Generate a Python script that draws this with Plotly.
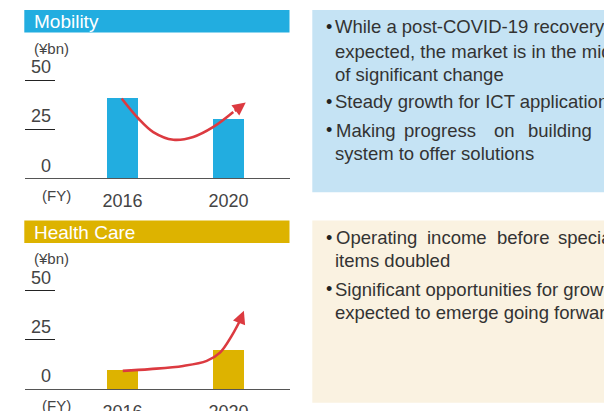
import plotly.graph_objects as go

W, H = 604, 411          # reference picture size
VIEW_H = 422             # layout height (browser viewport is rescaled to H)
K = VIEW_H / H

# ---------------- data ----------------
years = [2016, 2020]
mobility_values = [41.0, 30.2]
healthcare_values = [9.7, 19.9]
y_ticks = [0, 25, 50]
y_tick_labels = ["0", "25", "50"]
unit_label = "(¥bn)"
fy_label = "(FY)"
segments = ["Mobility", "Health Care"]

# trend arrows (data coordinates)
mob_trend_x = [2015.97, 2016.60, 2017.16, 2017.92, 2018.67, 2019.43, 2020.18]
mob_trend_y = [40.7, 30.5, 23.6, 19.7, 21.1, 26.2, 33.8]
mob_tip = (2020.65, 38.6)
hc_trend_x = [2016.01, 2017.04, 2018.29, 2019.18, 2019.68, 2020.12, 2020.43]
hc_trend_y = [9.2, 10.1, 11.7, 14.3, 18.5, 27.0, 34.7]
hc_tip = (2020.58, 39.8)

mobility_text = [
    ["While a post-COVID-19 recovery is"],
    ["expected, the market is in the midst"],
    ["of significant change"],
    ["Steady growth for ICT applications"],
    ["Making", "progress", "on", "building"],
    ["system to offer solutions"],
]
mobility_bullets = [0, 3, 4]
health_text = [
    ["Operating", "income", "before", "special"],
    ["items doubled"],
    ["Significant opportunities for growth"],
    ["expected to emerge going forward"],
]
health_bullets = [0, 2]

# ---------------- style ----------------
BLUE = "#22ade0"
YELLOW = "#ddb300"
RED = "#dc3a40"
TXT = "#333333"
GRAY = "#444444"
FONT = "Liberation Sans, Arial, sans-serif"


def px(x):
    return x / W


def py(y):
    return 1 - y / H


PXU = 1.96  # reference pixels per unit
X_RANGE = [2012.321, 2022.321]

fig = go.Figure()

panels = [
    dict(name=segments[0], vals=mobility_values, color=BLUE, base=178, top=10,
         tx=mob_trend_x, ty=mob_trend_y, tip=mob_tip, box="#c5e3f4",
         lines=mobility_text, bullets=mobility_bullets, xa="x", ya="y",
         line_y=[16.7, 41, 64.5, 91.7, 120, 143.3],
         just_x=[335, 402.7, 493, 527]),
    dict(name=segments[1], vals=healthcare_values, color=YELLOW, base=388, top=220,
         tx=hc_trend_x, ty=hc_trend_y, tip=hc_tip, box="#faf2e1",
         lines=health_text, bullets=health_bullets, xa="x2", ya="y2",
         line_y=[17, 40, 68.3, 91.7],
         just_x=[335, 426, 496, 557]),
]

annotations = []
shapes = []

for i, p in enumerate(panels):
    xa, ya = p["xa"], p["ya"]
    base, top = p["base"], p["top"]
    ydom = [py(base), py(base - 55 * PXU)]
    axkey = "" if i == 0 else "2"
    fig.update_layout(**{
        f"xaxis{axkey}": dict(
            domain=[px(25), px(290)], range=X_RANGE, tickvals=years,
            ticktext=[str(y) for y in years], showgrid=False, zeroline=False,
            showline=True, linecolor="#555555", linewidth=1.3, ticks="",
            ticklabelstandoff=6, tickfont=dict(family=FONT, size=18, color=GRAY),
            anchor=ya, fixedrange=True,
        ),
        f"yaxis{axkey}": dict(
            domain=ydom, range=[0, 55], tickvals=y_ticks, showticklabels=False,
            ticks="inside", ticklen=30, tickwidth=1.1, tickcolor="#222222",
            showgrid=False, zeroline=False, showline=False, anchor=xa,
            fixedrange=True,
        ),
    })
    fig.add_trace(go.Bar(
        x=years, y=p["vals"], width=1.17, marker=dict(color=p["color"], line=dict(width=0)),
        xaxis=xa, yaxis=ya, showlegend=False, hoverinfo="skip",
    ))
    fig.add_trace(go.Scatter(
        x=p["tx"], y=p["ty"], mode="lines", line=dict(color=RED, width=2.6, shape="spline"),
        xaxis=xa, yaxis=ya, showlegend=False, hoverinfo="skip",
    ))
    annotations.append(dict(
        x=p["tip"][0], y=p["tip"][1], ax=p["tx"][-1], ay=p["ty"][-1],
        xref=xa, yref=ya, axref=xa, ayref=ya, text="", showarrow=True,
        arrowhead=2, arrowsize=1.0, arrowwidth=2.6, arrowcolor=RED,
    ))
    # header bar
    shapes.append(dict(type="rect", xref="paper", yref="paper",
                       x0=px(24.3), x1=px(289.5), y0=py(top + 22.3), y1=py(top),
                       fillcolor=p["color"], line=dict(width=0), layer="below"))
    annotations.append(dict(x=px(32), y=py(top + 11.5), xref="paper", yref="paper",
                            text=p["name"], showarrow=False, xanchor="left", yanchor="middle",
                            font=dict(family=FONT, size=19, color="white")))
    # unit label
    annotations.append(dict(x=px(32), y=py(top + 38), xref="paper", yref="paper",
                            text=unit_label, showarrow=False, xanchor="left", yanchor="middle",
                            font=dict(family=FONT, size=15, color=GRAY)))
    # FY label
    annotations.append(dict(x=px(40), y=py(base + 17), xref="paper", yref="paper",
                            text=fy_label, showarrow=False, xanchor="left", yanchor="middle",
                            font=dict(family=FONT, size=15, color=GRAY)))
    # y tick labels
    for v, lab in zip(y_ticks, y_tick_labels):
        annotations.append(dict(x=px(53), y=v, xref="paper", yref=ya, yshift=12.5 * K,
                                text=lab, showarrow=False, xanchor="right", yanchor="middle",
                                font=dict(family=FONT, size=18, color=GRAY)))
    # text box
    shapes.append(dict(type="rect", xref="paper", yref="paper",
                       x0=px(312.3), x1=1.05, y0=py(top + 181.7), y1=py(top),
                       fillcolor=p["box"], line=dict(width=0), layer="below"))
    for j, words in enumerate(p["lines"]):
        yy = py(top + p["line_y"][j])
        if j in p["bullets"]:
            annotations.append(dict(x=px(328.5), y=yy, xref="paper", yref="paper", text="•",
                                    showarrow=False, xanchor="center", yanchor="middle",
                                    font=dict(family=FONT, size=18, color="#222222")))
        xs = [334] if len(words) == 1 else p["just_x"]
        for w, x0 in zip(words, xs):
            annotations.append(dict(x=px(x0), y=yy, xref="paper", yref="paper", text=w,
                                    showarrow=False, xanchor="left", yanchor="middle",
                                    xshift=-1,
                                    font=dict(family=FONT, size=18.5, color=TXT)))

fig.update_layout(
    width=W, height=VIEW_H, autosize=False, margin=dict(l=0, r=0, t=0, b=0),
    paper_bgcolor="white", plot_bgcolor="rgba(0,0,0,0)",
    annotations=annotations, shapes=shapes, showlegend=False,
    bargap=0,
)

fig.write_html(
    "out.html",
    config={"displayModeBar": False, "responsive": False},
    post_script=(
        "document.documentElement.style.overflow='hidden';"
        "document.body.style.overflow='hidden';"
        "document.body.style.margin='0';"
    ),
)
